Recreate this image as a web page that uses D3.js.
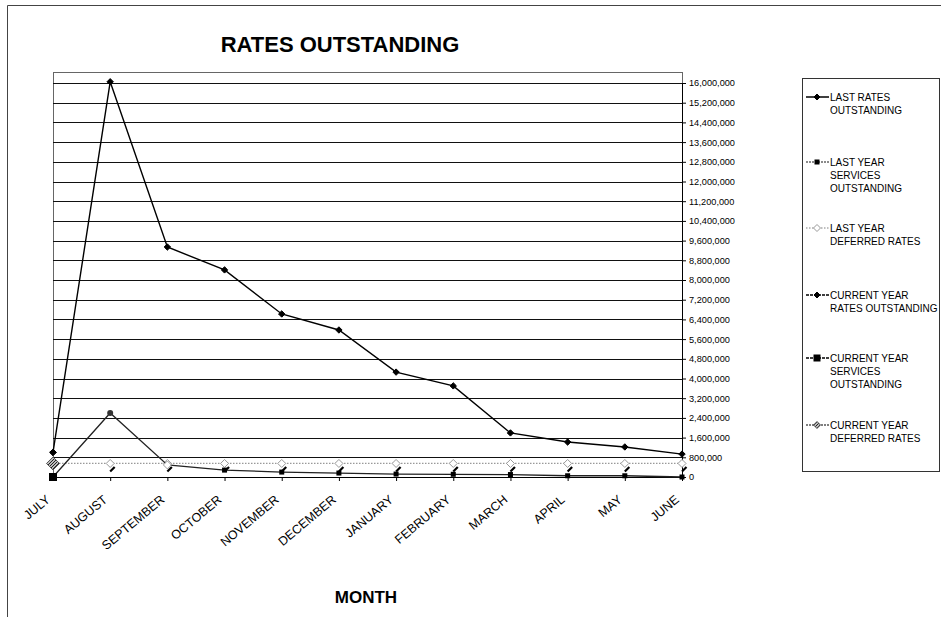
<!DOCTYPE html>
<html><head><meta charset="utf-8">
<script src="https://cdn.jsdelivr.net/npm/d3@7"></script>
<style>body{margin:0;background:#fff;} svg{display:block;font-family:Arial,"Liberation Sans",sans-serif;}</style>
</head><body>
<svg id="c" width="941" height="617"></svg>
<script>
const months = ["JULY","AUGUST","SEPTEMBER","OCTOBER","NOVEMBER","DECEMBER","JANUARY","FEBRUARY","MARCH","APRIL","MAY","JUNE"];
const lastRates = [1000000,16050000,9340000,8410000,6620000,5970000,4260000,3700000,1790000,1420000,1220000,930000];
const lastServices = [0,2600000,490000,280000,200000,160000,120000,110000,100000,50000,50000,0];
const lastDeferred = [550000,550000,550000,550000,550000,550000,550000,550000,550000,550000,550000,550000];
const curRates = [1000000,null,null,null,null,null,null,null,null,null,null,null];
const curServices = [0,null,null,null,null,null,null,null,null,null,null,null];
const curDeferred = [550000,null,null,null,null,null,null,null,null,null,null,null];
const yTicks = d3.range(0, 16000001, 800000);
const legendLabels = [
  ["LAST RATES","OUTSTANDING"],
  ["LAST YEAR","SERVICES","OUTSTANDING"],
  ["LAST YEAR","DEFERRED RATES"],
  ["CURRENT YEAR","RATES OUTSTANDING"],
  ["CURRENT YEAR","SERVICES","OUTSTANDING"],
  ["CURRENT YEAR","DEFERRED RATES"]
];

const svg = d3.select("#c");
svg.append("path").attr("d","M7.5,617 V5.5 H941").attr("fill","none").attr("stroke","#444").attr("stroke-width",1);

const x = d3.scalePoint().domain(months).range([53,682]);
const y = d3.scaleLinear().domain([0,16000000]).range([477,83]);

const defs = svg.append("defs");
const pat = defs.append("pattern").attr("id","hatch").attr("width",3).attr("height",3).attr("patternUnits","userSpaceOnUse");
pat.append("rect").attr("width",3).attr("height",3).attr("fill","#bbb");
pat.append("path").attr("d","M0,3 L3,0").attr("stroke","#222").attr("stroke-width",1);

svg.append("rect").attr("x",53.5).attr("y",72.5).attr("width",629).attr("height",405).attr("fill","none").attr("stroke","#666");

svg.append("g").selectAll("line").data(yTicks).join("line")
  .attr("x1",53).attr("x2",682).attr("y1",d=>Math.round(y(d))+0.5).attr("y2",d=>Math.round(y(d))+0.5)
  .attr("stroke","#111").attr("stroke-width",1);

const ax = svg.append("g").attr("transform","translate(682,0)")
  .call(d3.axisRight(y).tickValues(yTicks).tickSize(4).tickPadding(3).tickFormat(d3.format(",")));
ax.select(".domain").attr("stroke","#000");
ax.selectAll("line").attr("stroke","#000");
ax.selectAll("text").attr("font-size","9.2px").attr("fill","#000").attr("font-family","Arial,'Liberation Sans',sans-serif");

const bx = svg.append("g").attr("transform","translate(0,477)")
  .call(d3.axisBottom(x).tickSize(4).tickFormat(""));
bx.select(".domain").attr("stroke","#000");
bx.selectAll("line").attr("stroke","#000");
svg.append("g").selectAll("text").data(months).join("text")
  .attr("transform",d=>`translate(${x(d)-2},501) rotate(-40)`)
  .attr("text-anchor","end").attr("font-size","12.5px").attr("fill","#000").text(d=>d);

function line(vals){
  return d3.line().defined(d=>d!=null).x((d,i)=>x(months[i])).y(d=>y(d))(vals);
}
function diamond(g, cx, cy, r, fill, stroke){
  g.append("path").attr("d",`M${cx},${cy-r} L${cx+r},${cy} L${cx},${cy+r} L${cx-r},${cy} Z`)
   .attr("fill",fill).attr("stroke",stroke).attr("stroke-width",1);
}
function square(g, cx, cy, s, fill){
  g.append("rect").attr("x",cx-s/2).attr("y",cy-s/2).attr("width",s).attr("height",s).attr("fill",fill);
}

const plot = svg.append("g");
plot.append("path").attr("d",line(lastDeferred)).attr("fill","none").attr("stroke","#999").attr("stroke-width",1.2).attr("stroke-dasharray","1.5,1.5");
lastDeferred.forEach((v,i)=>{ if(v==null) return;
  const cx=x(months[i]), cy=y(v);
  diamond(plot,cx,cy,4,"#fff","#999");
  if(i>0) plot.append("line").attr("x1",cx).attr("y1",cy+8).attr("x2",cx+4.5).attr("y2",cy+3.5).attr("stroke","#000").attr("stroke-width",2.2);
});
plot.append("path").attr("d",line(lastServices)).attr("fill","none").attr("stroke","#222").attr("stroke-width",1.3);
lastServices.forEach((v,i)=>{ if(v==null) return; const cx=x(months[i]), cy=y(v);
  if(i===1) plot.append("circle").attr("cx",cx).attr("cy",cy).attr("r",3).attr("fill","#333");
  else if(i===2) diamond(plot,cx,cy,4,"#fff","#999");
  else square(plot,cx,cy,5,"#000");
});
plot.append("path").attr("d",line(lastRates)).attr("fill","none").attr("stroke","#000").attr("stroke-width",1.4);
lastRates.forEach((v,i)=>{ if(v==null) return; diamond(plot,x(months[i]),y(v),3.2,"#000","#000"); });
curRates.forEach((v,i)=>{ if(v==null) return; diamond(plot,x(months[i]),y(v),3.2,"#000","#000"); });
curDeferred.forEach((v,i)=>{ if(v==null) return; diamond(plot,x(months[i]),y(v),6.5,"url(#hatch)","#555"); });
curServices.forEach((v,i)=>{ if(v==null) return; square(plot,x(months[i]),y(v),8,"#000"); });

svg.append("text").attr("x",340).attr("y",52).attr("text-anchor","middle").attr("font-size","22px").attr("font-weight","bold").text("RATES OUTSTANDING");
svg.append("text").attr("x",366).attr("y",603).attr("text-anchor","middle").attr("font-size","17px").attr("font-weight","bold").text("MONTH");

const lg = svg.append("g");
lg.append("rect").attr("x",802.5).attr("y",78.5).attr("width",137).attr("height",393).attr("fill","#fff").attr("stroke","#333");
const legendY = [97,162,228,295,358,425];
const lstyles = [
  {stroke:"#000",dash:null,mk:(g,cx,cy)=>diamond(g,cx,cy,3,"#000","#000")},
  {stroke:"#666",dash:"2,1",mk:(g,cx,cy)=>square(g,cx,cy,5,"#000")},
  {stroke:"#aaa",dash:"1.5,1.5",mk:(g,cx,cy)=>diamond(g,cx,cy,3.5,"#fff","#999")},
  {stroke:"#000",dash:"3,1",mk:(g,cx,cy)=>diamond(g,cx,cy,3,"#000","#000")},
  {stroke:"#000",dash:"3,1",mk:(g,cx,cy)=>square(g,cx,cy,7,"#000")},
  {stroke:"#555",dash:"2,1",mk:(g,cx,cy)=>diamond(g,cx,cy,3.5,"url(#hatch)","#555")}
];
legendLabels.forEach((lab,k)=>{
  const cy=legendY[k], st=lstyles[k];
  lg.append("line").attr("x1",806).attr("x2",829).attr("y1",cy).attr("y2",cy).attr("stroke",st.stroke).attr("stroke-width",1.5).attr("stroke-dasharray",st.dash);
  st.mk(lg,817,cy);
  const t = lg.append("text").attr("x",830).attr("y",cy+3.5).attr("font-size","10px").attr("fill","#000");
  lab.forEach((s,j)=>t.append("tspan").attr("x",830).attr("dy",j===0?0:13).text(s));
});
</script>
</body></html>
